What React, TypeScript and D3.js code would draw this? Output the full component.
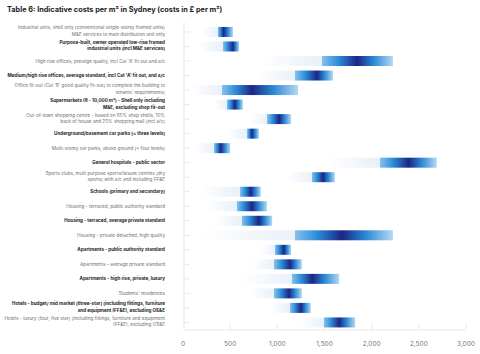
import React from 'react';
import { scaleLinear, scaleBand } from 'd3';

// labels, split into lines as in the table
const categories = [
  ['Industrial units, shell only (conventional single-storey framed units)', 'M&E services to main distribution unit only'],
  ['Purpose-built, owner operated low-rise framed', 'industrial units (incl M&E services)'],
  ["High rise offices, prestige quality, incl Cat 'A' fit out and a/c"],
  ["Medium/high rise offices, average standard, incl Cat 'A' fit out, and a/c"],
  ["Office fit-out (Cat 'B' good quality fit-out) to complete the building to", "tenants' requirements)"],
  ['Supermarkets (8 - 10,000 m²) - Shell only including', 'M&E, excluding shop fit-out'],
  ['Out-of-town shopping centre - based on 65% shop shells, 10%', 'back of house and 25% shopping mall (incl a/c)'],
  ['Underground/basement car parks (< three levels)'],
  ['Multi-storey car parks, above ground (< four levels)'],
  ['General hospitals - public sector'],
  ['Sports clubs, multi purpose sports/leisure centres (dry', 'sports) with a/c and including FF&E'],
  ['Schools (primary and secondary)'],
  ['Housing - terraced, public authority standard'],
  ['Housing - terraced, average private standard'],
  ['Housing - private detached, high quality'],
  ['Apartments - public authority standard'],
  ['Apartments – average private standard'],
  ['Apartments - high rise, private, luxury'],
  ["Students' residences"],
  ['Hotels - budget/ mid market (three-star) (including fittings, furniture', 'and equipment (FF&E), excluding OS&E'],
  ['Hotels - luxury (four, five star) (including fittings, furniture and equipment', '(FF&E), excluding OS&E'],
];
const boldRows = [1, 3, 5, 7, 9, 11, 13, 15, 17, 19];

// faint tail start, range low, peak, range high (£ per m²)
const tailValues = [210, 150, 815, 800, 95, 330, 720, 465, 115, 1525, 1100, 190, 255, 330, 180, 825, 730, 615, 720, 930, 1250];
const lowValues = [370, 425, 1475, 1190, 415, 465, 890, 680, 330, 2090, 1365, 605, 570, 625, 1190, 975, 965, 1155, 965, 1135, 1495];
const peakValues = [430, 530, 1845, 1420, 730, 550, 1020, 730, 400, 2390, 1485, 720, 730, 805, 1685, 1070, 1135, 1370, 1125, 1250, 1655];
const highValues = [530, 595, 2225, 1590, 1220, 635, 1145, 805, 500, 2690, 1610, 825, 890, 945, 2225, 1145, 1260, 1655, 1260, 1355, 1825];

const xTicks = [0, 500, 1000, 1500, 2000, 2500, 3000];
const title = 'Table 6: Indicative costs per m² in Sydney (costs in £ per m²)';

const W = 480;
const H = 354;
const font = 'Inter, "Noto Sans", sans-serif';

export default function App() {
  const x = scaleLinear().domain([0, 3000]).range([183, 466]);
  const y = scaleBand<number>()
    .domain(categories.map((_, i) => i))
    .range([24.7, 329.7])
    .paddingInner(0.3)
    .paddingOuter(0.15);
  const bh = 10;
  const fmt = (v: number) => v.toLocaleString('en-US');

  return (
    <svg width={W} height={H} style={{ position: 'absolute', left: 0, top: 0, background: '#fff' }}>
      <defs>
        {categories.map((_, i) => {
          const x1 = x(tailValues[i]);
          const x2 = x(highValues[i]);
          const off = (v: number) => (x(v) - x1) / (x2 - x1);
          const lo = lowValues[i];
          const pk = peakValues[i];
          const hi = highValues[i];
          return (
            <linearGradient key={i} id={`g${i}`} gradientUnits="userSpaceOnUse" x1={x1} x2={x2} y1={0} y2={0}>
              <stop offset={0} stopColor="#ffffff" />
              <stop offset={off(lo) - 0.001} stopColor="#e8f0f9" />
              <stop offset={off(lo)} stopColor="#86c0ec" />
              <stop offset={off(lo + (pk - lo) * 0.45)} stopColor="#2d8fda" />
              <stop offset={off(pk)} stopColor="#1c2685" />
              <stop offset={off(pk + (hi - pk) * 0.45)} stopColor="#2a86d4" />
              <stop offset={1} stopColor="#b3d9f3" />
            </linearGradient>
          );
        })}
      </defs>

      <g transform="translate(7,12) scale(0.73)">
        <text fontFamily={font} fontSize={10} fontWeight={700} fill="#222">
          {title}
        </text>
      </g>

      {/* axes */}
      <line x1={184} x2={184} y1={22} y2={330} stroke="#e2e2e2" strokeWidth={0.8} />
      <line x1={184} x2={466} y1={330} y2={330} stroke="#e2e2e2" strokeWidth={0.8} />
      {categories.map((_, i) => {
        const cy = y(i)! + y.bandwidth() / 2;
        return <line key={i} x1={184} x2={190} y1={cy} y2={cy} stroke="#e2e2e2" strokeWidth={0.8} />;
      })}
      {xTicks.map((t) => (
        <g key={t}>
          {t > 0 && <line x1={x(t)} x2={x(t)} y1={324} y2={330} stroke="#e2e2e2" strokeWidth={0.8} />}
          <text x={x(t)} y={346} textAnchor="middle" fontFamily={font} fontSize={6.5} fill="#777">
            {fmt(t)}
          </text>
        </g>
      ))}

      {/* bars */}
      {categories.map((_, i) => {
        const cy = y(i)! + y.bandwidth() / 2;
        return (
          <rect
            key={i}
            x={x(tailValues[i])}
            y={cy - bh / 2}
            width={x(highValues[i]) - x(tailValues[i])}
            height={bh}
            fill={`url(#g${i})`}
          />
        );
      })}

      {/* labels, drawn at 10px and scaled down */}
      {categories.map((lines, i) => {
        const cy = y(i)! + y.bandwidth() / 2;
        const bold = boldRows.includes(i);
        const k = bold ? 0.46 : 0.465;
        const lh = 6.6;
        const start = cy - ((lines.length - 1) * lh) / 2 + 1.5 - (lines.length > 1 ? 0.8 : 0);
        return (
          <g key={i}>
            {lines.map((l, j) => (
              <g key={j} transform={`translate(165,${start + j * lh}) scale(${k})`}>
                <text
                  textAnchor="end"
                  fontFamily={font}
                  fontSize={10}
                  fontWeight={bold ? 700 : 400}
                  fill={bold ? '#222' : '#707070'}
                >
                  {l}
                </text>
              </g>
            ))}
          </g>
        );
      })}
    </svg>
  );
}
